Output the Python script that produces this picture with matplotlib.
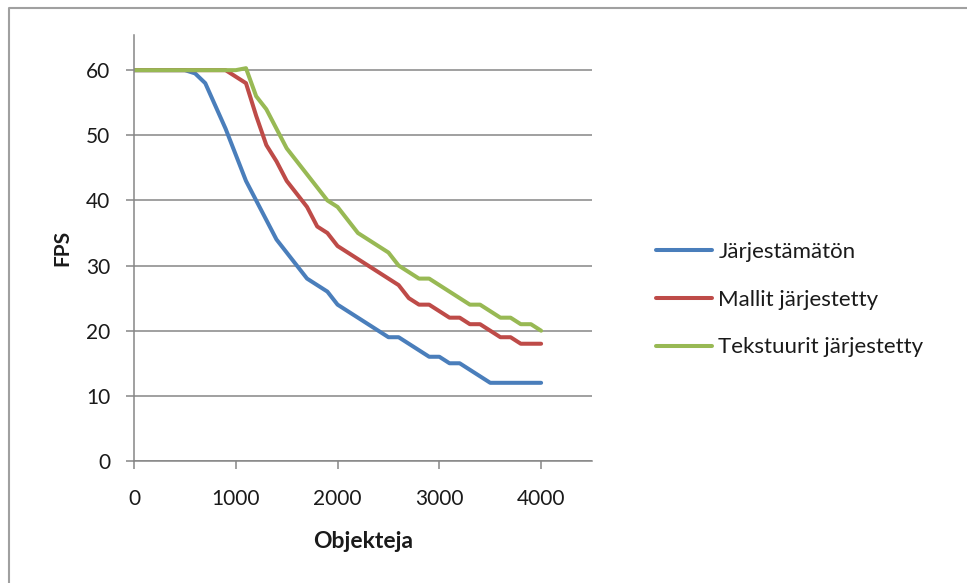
import matplotlib
matplotlib.use("Agg")
import matplotlib.pyplot as plt
from matplotlib.lines import Line2D

plt.rcParams['font.family'] = ['Lato', 'DejaVu Sans']

# objektimäärä 100:n välein
objects = list(range(0, 4001, 100))

unsorted_fps = [60, 60, 60, 60, 60, 60, 59.5, 58, 54.5, 51,
                47, 43, 40, 37, 34, 32, 30, 28, 27, 26,
                24, 23, 22, 21, 20, 19, 19, 18, 17, 16,
                16, 15, 15, 14, 13, 12, 12, 12, 12, 12, 12]
models_fps = [60, 60, 60, 60, 60, 60, 60, 60, 60, 60,
              59, 58, 53, 48.5, 46, 43, 41, 39, 36, 35,
              33, 32, 31, 30, 29, 28, 27, 25, 24, 24,
              23, 22, 22, 21, 21, 20, 19, 19, 18, 18, 18]
textures_fps = [60, 60, 60, 60, 60, 60, 60, 60, 60, 60,
                60, 60.3, 56, 54, 51, 48, 46, 44, 42, 40,
                39, 37, 35, 34, 33, 32, 30, 29, 28, 28,
                27, 26, 25, 24, 24, 23, 22, 22, 21, 21, 20]

series_names = ['Järjestämätön', 'Mallit järjestetty', 'Tekstuurit järjestetty']
colors = ['#4A7EBB', '#BE4B48', '#98B954']
axis_gray = '#868686'
text_color = '#1A1A1A'

fig = plt.figure(figsize=(9.67, 5.83), dpi=100)
ax = fig.add_axes([0.1386, 0.2093, 0.4736, 0.7307])

for ys, name, c in zip([unsorted_fps, models_fps, textures_fps], series_names, colors):
    ax.plot(objects, ys, color=c, lw=2.9, label=name,
            solid_joinstyle='round', solid_capstyle='round')

ax.set_xlim(0, 4500)
ax.set_ylim(0, 65.4)
ax.set_xticks(range(0, 4001, 1000))
ax.set_yticks(range(0, 61, 10))
ax.yaxis.grid(True, color=axis_gray, lw=1.1)
ax.set_axisbelow(True)

for side in ['top', 'right']:
    ax.spines[side].set_visible(False)
for side in ['left', 'bottom']:
    ax.spines[side].set_color(axis_gray)
    ax.spines[side].set_linewidth(1.1)
ax.tick_params(colors=axis_gray, length=6, width=1.1, labelsize=15,
               labelcolor=text_color, direction='out')
ax.tick_params(axis='x', pad=14)
ax.tick_params(axis='y', pad=11)

ax.set_xlabel('Objekteja', fontsize=16.5, fontweight='bold', labelpad=16,
              color=text_color)
ax.set_ylabel('FPS', fontsize=15, fontweight='bold', labelpad=10,
              color=text_color)

ax.legend(loc='center left', bbox_to_anchor=(0.669, 0.486),
          bbox_transform=fig.transFigure, frameon=False, fontsize=16,
          handlelength=2.55, handletextpad=0.27, labelspacing=1.25,
          borderaxespad=0, labelcolor=text_color)

# kaavioalueen reunaviiva
fig.add_artist(Line2D([9 / 967, 9 / 967, 1.0], [0.0, 1 - 8 / 583, 1 - 8 / 583],
                      transform=fig.transFigure, color='#A0A0A0', lw=1.5))

fig.savefig('out.png', dpi=100)
